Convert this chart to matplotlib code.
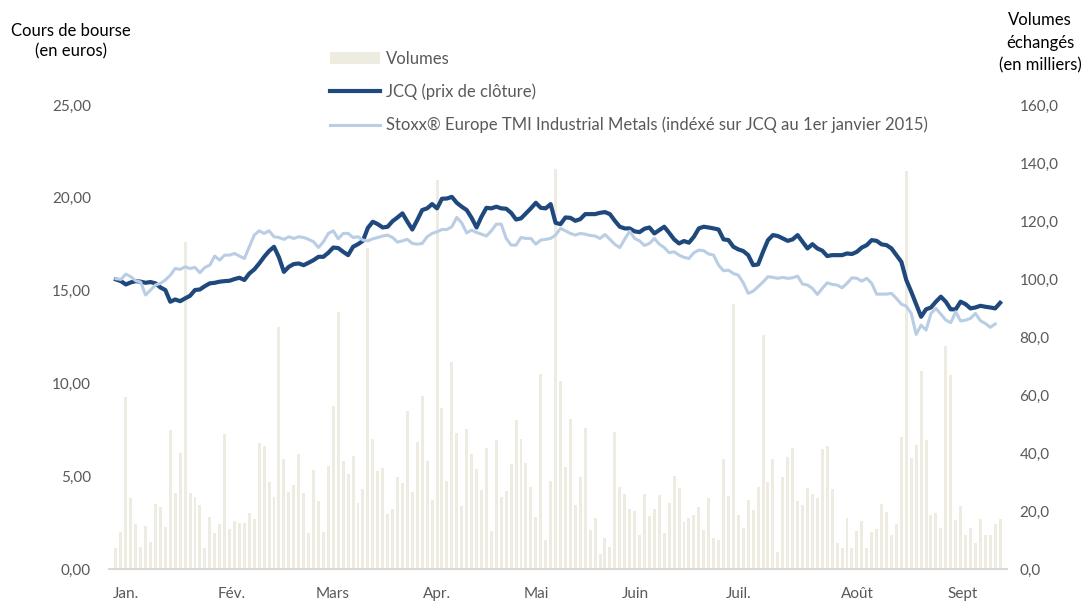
# =============================================================
# JCQ - cours de bourse vs Stoxx Europe TMI Industrial Metals
# Barres : volumes échangés (axe droit), courbes : cours (axe gauche)
# =============================================================

import numpy as np
import matplotlib
matplotlib.use('Agg')
import matplotlib.pyplot as plt
from matplotlib.ticker import FuncFormatter

plt.rcParams['font.family'] = ['Lato', 'DejaVu Sans']

# ----------------------------------------------------------------
# Data (one value per trading day)
# ----------------------------------------------------------------
volumes = [
    7.4, 12.6, 59.4, 24.4, 15.5, 7.7, 14.9, 9.2, 22.4, 21.5, 14.5, 47.9, 26.1, 39.9, 112.9,
    26.1, 24.7, 22.1, 7.4, 18.0, 12.3, 15.5, 46.6, 13.8, 16.6, 15.7, 15.7, 19.2, 17.1, 43.3,
    42.4, 29.9, 24.9, 83.3, 37.8, 26.7, 28.9, 39.7, 26.1, 12.3, 34.1, 23.4, 12.8, 35.5, 56.2,
    88.5, 37.1, 32.8, 39.0, 22.6, 27.7, 110.6, 44.7, 33.9, 34.9, 19.0, 20.7, 31.7, 29.7, 54.6,
    26.7, 43.7, 59.7, 37.2, 23.8, 134.1, 55.4, 30.3, 71.4, 46.8, 21.7, 48.2, 39.5, 34.4, 27.4,
    41.8, 13.1, 44.5, 24.8, 27.0, 36.3, 51.4, 44.7, 36.7, 28.2, 17.9, 67.1, 10.0, 30.3, 137.8,
    64.7, 35.3, 51.7, 22.1, 31.7, 48.6, 13.4, 17.7, 5.1, 10.8, 7.7, 47.1, 28.3, 26.0, 20.6,
    20.1, 11.7, 26.0, 18.3, 20.6, 25.4, 12.3, 22.6, 32.1, 27.8, 16.3, 17.7, 18.6, 21.5, 13.4,
    24.4, 10.8, 10.0, 37.8, 25.3, 91.3, 18.5, 14.0, 23.8, 20.3, 28.3, 80.6, 30.0, 37.8, 5.7,
    31.8, 38.5, 41.6, 23.4, 22.1, 27.8, 25.9, 24.4, 41.3, 42.4, 27.5, 9.1, 7.4, 17.6, 7.4,
    13.1, 16.6, 7.4, 12.8, 13.7, 22.4, 19.5, 11.7, 15.5, 45.5, 137.4, 38.2, 42.6, 68.3, 44.5,
    18.6, 19.3, 14.0, 76.8, 66.8, 16.9, 21.7, 11.7, 14.0, 8.9, 17.2, 11.7, 11.7, 15.5, 17.2,
]

jcq_close = [
    15.60, 15.51, 15.33, 15.44, 15.51, 15.48, 15.42, 15.46, 15.39, 15.17, 15.03, 14.40, 14.52, 14.43, 14.58,
    14.72, 15.03, 15.06, 15.24, 15.39, 15.42, 15.48, 15.51, 15.53, 15.62, 15.69, 15.57, 15.92, 16.14, 16.46,
    16.82, 17.13, 17.36, 16.79, 16.01, 16.28, 16.43, 16.46, 16.37, 16.50, 16.64, 16.82, 16.82, 17.04, 17.32,
    17.29, 17.09, 16.91, 17.36, 17.50, 17.68, 18.38, 18.71, 18.58, 18.40, 18.44, 18.74, 18.94, 19.16, 18.71,
    18.29, 18.80, 19.34, 19.43, 19.66, 19.43, 19.95, 19.96, 20.05, 19.73, 19.52, 19.34, 18.92, 18.40, 18.98,
    19.46, 19.43, 19.52, 19.43, 19.41, 19.19, 18.83, 18.89, 19.16, 19.43, 19.73, 19.46, 19.43, 19.66, 18.65,
    18.58, 18.94, 18.92, 18.76, 18.85, 19.12, 19.12, 19.12, 19.19, 19.23, 19.12, 18.76, 18.44, 18.35, 18.35,
    18.19, 18.15, 18.33, 18.40, 18.08, 18.26, 18.44, 18.11, 17.76, 17.54, 17.67, 17.58, 17.90, 18.35, 18.44,
    18.40, 18.35, 18.29, 17.76, 17.72, 17.36, 17.22, 17.13, 16.91, 16.37, 16.41, 17.09, 17.72, 17.99, 17.94,
    17.81, 17.68, 17.76, 17.99, 17.63, 17.27, 17.50, 17.27, 17.15, 16.86, 16.91, 16.91, 16.91, 17.00, 16.97,
    17.09, 17.32, 17.45, 17.72, 17.68, 17.49, 17.45, 17.27, 16.91, 16.55, 15.57, 14.94, 14.27, 13.59, 13.99,
    14.09, 14.40, 14.67, 14.40, 13.99, 13.99, 14.40, 14.27, 14.04, 14.09, 14.18, 14.13, 14.09, 14.04, 14.34,
]

stoxx_indexed = [
    15.64, 15.60, 15.89, 15.75, 15.53, 15.46, 14.76, 15.03, 15.30, 15.39, 15.57, 15.83, 16.19, 16.14, 16.28,
    16.19, 16.25, 15.96, 16.25, 16.37, 16.86, 16.64, 16.91, 16.91, 17.00, 16.86, 16.73, 17.36, 17.99, 18.22,
    18.08, 18.22, 17.90, 17.86, 17.76, 17.90, 17.81, 17.90, 17.86, 17.76, 17.63, 17.32, 17.63, 18.08, 18.22,
    17.79, 18.08, 18.08, 17.86, 17.90, 17.72, 17.68, 17.79, 17.86, 17.94, 17.99, 17.86, 17.61, 17.68, 17.76,
    17.54, 17.50, 17.54, 17.90, 18.08, 18.17, 18.29, 18.29, 18.44, 18.94, 18.65, 18.11, 18.26, 18.13, 18.04,
    17.94, 18.22, 18.58, 18.58, 17.81, 17.45, 17.45, 17.86, 17.81, 17.81, 17.50, 17.72, 17.76, 17.81, 17.99,
    18.35, 18.22, 18.08, 17.99, 18.08, 18.04, 17.97, 17.94, 17.81, 18.02, 17.76, 17.49, 17.32, 17.77, 18.20,
    17.81, 17.68, 17.43, 17.54, 17.81, 17.50, 17.32, 17.04, 17.09, 16.91, 16.79, 16.73, 17.04, 17.18, 17.15,
    16.97, 16.91, 16.37, 16.07, 16.10, 15.92, 15.83, 15.42, 14.85, 14.97, 15.21, 15.46, 15.75, 15.71, 15.66,
    15.71, 15.66, 15.69, 15.78, 15.35, 15.30, 15.12, 14.79, 15.12, 15.42, 15.33, 15.30, 15.15, 15.39, 15.69,
    15.66, 15.51, 15.66, 15.39, 14.81, 14.81, 14.81, 14.85, 14.58, 14.27, 14.16, 13.77, 12.64, 13.14, 12.87,
    13.77, 14.04, 13.73, 13.41, 13.27, 13.86, 13.36, 13.41, 13.50, 13.77, 13.38, 13.23, 13.02, 13.20, np.nan,
]

month_labels = ['Jan.', 'Fév.', 'Mars', 'Apr.', 'Mai', 'Juin', 'Juil.', 'Août', 'Sept']
month_pos = [2.0, 23.5, 43.9, 65.0, 85.2, 105.1, 126.1, 150.2, 171.5]

# ----------------------------------------------------------------
# Style
# ----------------------------------------------------------------
DARK_BLUE = '#1F497D'
LIGHT_BLUE = '#B9CDE5'
BAR_COLOR = '#EEECE1'
TICK_GREY = '#595959'

days = np.arange(len(volumes))

fig = plt.figure(figsize=(10.86, 6.03), dpi=100)
ax = fig.add_axes([0.1004, 0.0564, 0.8269, 0.7695])
ax2 = ax.twinx()

# volumes behind the price lines
ax.set_zorder(ax2.get_zorder() + 1)
ax.patch.set_visible(False)

bars = ax2.bar(days, volumes, width=0.6, color=BAR_COLOR, label='Volumes')
l1, = ax.plot(days, jcq_close, color=DARK_BLUE, lw=3.0, solid_joinstyle='round',
              label='JCQ (prix de clôture)')
l2, = ax.plot(days, stoxx_indexed, color=LIGHT_BLUE, lw=2.2, solid_joinstyle='round',
              label='Stoxx® Europe TMI Industrial Metals (indéxé sur JCQ au 1er janvier 2015)')

ax.set_xlim(-1.4, 180.4)
ax.set_ylim(0, 25)
ax2.set_ylim(0, 160)
ax.set_yticks(np.arange(0, 25.1, 5))
ax2.set_yticks(np.arange(0, 160.1, 20))
ax.yaxis.set_major_formatter(FuncFormatter(lambda v, p: f'{v:.2f}'.replace('.', ',')))
ax2.yaxis.set_major_formatter(FuncFormatter(lambda v, p: f'{v:.1f}'.replace('.', ',')))
ax.set_xticks(month_pos)
ax.set_xticklabels(month_labels)

for a in (ax, ax2):
    for s in a.spines.values():
        s.set_visible(False)
    a.tick_params(length=0, labelsize=11, labelcolor=TICK_GREY)
ax2.spines['bottom'].set_visible(True)
ax2.spines['bottom'].set_color('#D9D9D9')
ax2.spines['bottom'].set_linewidth(1.5)
ax.tick_params(axis='y', pad=13)
ax2.tick_params(axis='y', pad=9)
ax.tick_params(axis='x', pad=13)

# axis titles
fig.text(71 / 1086, 1 - 41 / 603, 'Cours de bourse\n(en euros)', ha='center', va='center',
         fontsize=12, linespacing=1.3)
fig.text(1040 / 1086, 1 - 43 / 603, 'Volumes\néchangés\n(en milliers)', ha='center', va='center',
         fontsize=12, linespacing=1.5)

fig.legend(handles=[bars, l1, l2], loc='upper left', bbox_to_anchor=(330 / 1086, 1 - 51 / 603),
           frameon=False, fontsize=12, labelcolor=TICK_GREY, handlelength=3.0,
           handletextpad=0.35, labelspacing=1.0, borderpad=0, borderaxespad=0)

fig.savefig('out.png', dpi=100)
